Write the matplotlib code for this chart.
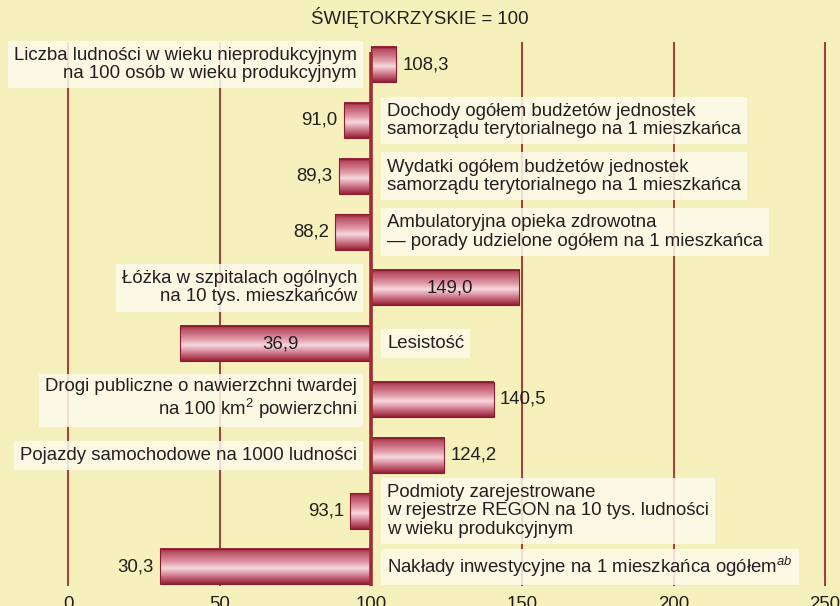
import numpy as np
import matplotlib
matplotlib.use("Agg")
import matplotlib.pyplot as plt
from matplotlib.colors import LinearSegmentedColormap
from matplotlib.patches import Rectangle

plt.rcParams['font.family'] = ['Liberation Sans', 'DejaVu Sans']
plt.rcParams['mathtext.fontset'] = 'custom'
plt.rcParams['mathtext.rm'] = 'Liberation Sans'
plt.rcParams['mathtext.it'] = 'Liberation Sans:italic'

# data
labels = [
    "Liczba ludności w wieku nieprodukcyjnym\nna 100 osób w wieku produkcyjnym",
    "Dochody ogółem budżetów jednostek\nsamorządu terytorialnego na 1 mieszkańca",
    "Wydatki ogółem budżetów jednostek\nsamorządu terytorialnego na 1 mieszkańca",
    "Ambulatoryjna opieka zdrowotna\n— porady udzielone ogółem na 1 mieszkańca",
    "Łóżka w szpitalach ogólnych\nna 10 tys. mieszkańców",
    "Lesistość",
    "Drogi publiczne o nawierzchni twardej\nna 100 km$^{2}$ powierzchni",
    "Pojazdy samochodowe na 1000 ludności",
    "Podmioty zarejestrowane\nw rejestrze REGON na 10 tys. ludności\nw wieku produkcyjnym",
    "Nakłady inwestycyjne na 1 mieszkańca ogółem$^{ab}$",
]
values = [108.3, 91.0, 89.3, 88.2, 149.0, 36.9, 140.5, 124.2, 93.1, 30.3]
# value label inside the bar or outside its end
value_inside = [False, False, False, False, True, True, False, False, False, False]
base = 100
xticks = [0, 50, 100, 150, 200, 250]
title = "ŚWIĘTOKRZYSKIE = 100"

BG = '#F6F0BC'
BOX = '#FDFAEC'
GRID = '#9E2B35'
TXT = '#231F20'
FS = 13.4

bar_cmap = LinearSegmentedColormap.from_list('bar', [
    (0.0, '#962637'), (0.12, '#BC5568'), (0.35, '#DA8C9C'),
    (0.56, '#F7D8DE'), (0.74, '#D7899A'), (0.9, '#B2465A'), (1.0, '#922236')])

fig = plt.figure(figsize=(8.4, 6.06), dpi=100)
fig.patch.set_facecolor(BG)
ax = fig.add_axes([0, 16 / 606, 1, 590 / 606])
ax.set_facecolor(BG)
for sp in ax.spines.values():
    sp.set_visible(False)

n = len(values)
ypos = np.arange(n)
h = 0.63

# grid
ax.vlines([t for t in xticks if t != base], -0.405, 9.35, color=GRID, lw=1.3, zorder=1)
ax.vlines(base, -0.23, 9.35, color=GRID, lw=2.6, zorder=4)

grad = np.linspace(0, 1, 64).reshape(-1, 1)
for y, v, lab, inside in zip(ypos, values, labels, value_inside):
    left, right = min(base, v), max(base, v)
    ax.imshow(grad, cmap=bar_cmap, aspect='auto', origin='upper',
              extent=[left, right, y + h / 2, y - h / 2], zorder=3, interpolation='bilinear')
    ax.add_patch(Rectangle((left, y - h / 2), right - left, h, fill=False,
                           edgecolor='#8A1C30', lw=0.8, zorder=3.5))
    val = f"{v:.1f}".replace('.', ',')
    if inside:
        ax.text((left + right) / 2 + 1.5, y, val, ha='center', va='center', fontsize=FS, color=TXT, zorder=5)
    elif v >= base:
        ax.text(v + 2, y, val, ha='left', va='center', fontsize=FS, color=TXT, zorder=5)
    else:
        ax.text(v - 2, y, val, ha='right', va='center', fontsize=FS, color=TXT, zorder=5)

    # category label on the opposite side of the bar
    box = dict(boxstyle='square,pad=0.33', facecolor=BOX, edgecolor='none', alpha=0.85)
    if v >= base:
        ax.text(95.4, y, lab, ha='right', va='center', multialignment='right', linespacing=1.1,
                fontsize=FS, color=TXT, bbox=box, zorder=2)
    else:
        ax.text(105.3, y, lab, ha='left', va='center', multialignment='left', linespacing=1.1,
                fontsize=FS, color=TXT, bbox=box, zorder=2)

ax.set_xlim(-22.64, 255.04)
ax.set_ylim(9.416, -1.158)
ax.set_yticks([])
ax.set_xticks(xticks)
ax.set_xticklabels([str(t) for t in xticks], fontsize=FS, color=TXT)
ax.tick_params(axis='x', length=0, pad=4)

fig.text(0.5, 1 - 18 / 606, title, ha='center', va='center', fontsize=FS, color=TXT)

fig.savefig('out.png', dpi=100, facecolor=BG)
